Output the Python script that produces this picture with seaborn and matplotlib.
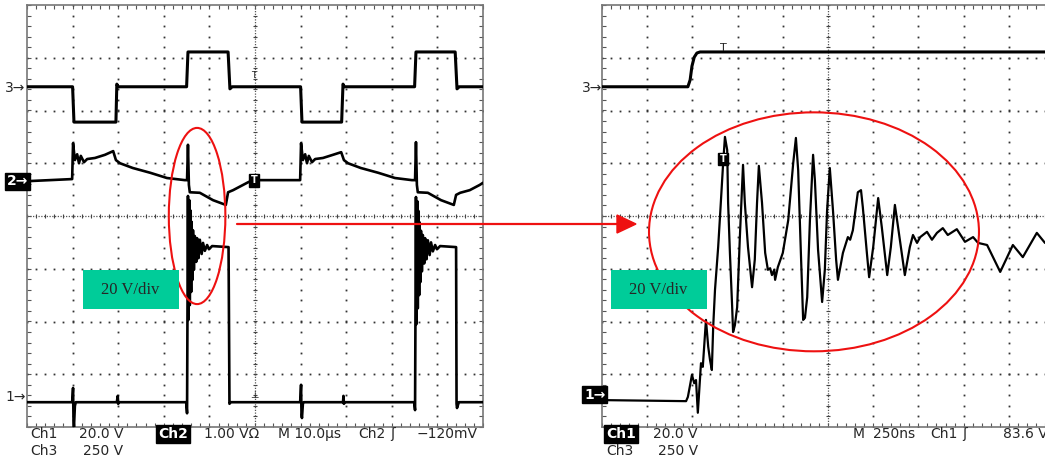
import numpy as np
import pandas as pd
import matplotlib
matplotlib.use("Agg")
import matplotlib.pyplot as plt
import seaborn as sns
from matplotlib.patches import Ellipse, Rectangle, Polygon
from matplotlib.lines import Line2D

sns.set_style("white")
plt.rcParams["font.family"] = ["DejaVu Sans"]

# ---------------------------------------------------------------------------
# Scope traces, in screen divisions (x: 0..10 div, y: -4..+4 div)
# ---------------------------------------------------------------------------

# 10 us/div record -- Ch3 (250 V/div)
ch3_slow = [(0.00, 2.45), (1.00, 2.45), (1.03, 1.78), (1.95, 1.78), (1.97, 2.50),
            (2.00, 2.45), (3.50, 2.45), (3.53, 3.11), (4.41, 3.11), (4.45, 2.41),
            (4.50, 2.45), (6.00, 2.45), (6.03, 1.78), (6.90, 1.78), (6.93, 2.50),
            (6.96, 2.45), (8.50, 2.45), (8.53, 3.11), (9.39, 3.11), (9.43, 2.41),
            (9.48, 2.45), (10.0, 2.45)]

# 10 us/div record -- Ch2 (1.00 V/div, current probe)
ch2_slow = [(0.00, 0.66), (0.50, 0.68), (0.99, 0.70), (1.01, 1.38), (1.05, 1.06),
            (1.10, 1.17), (1.14, 1.00), (1.18, 1.14), (1.25, 1.02), (1.32, 1.08),
            (1.49, 1.10), (1.71, 1.16), (1.89, 1.23), (1.95, 1.06), (2.04, 1.00),
            (2.32, 0.91), (2.70, 0.82), (3.07, 0.72), (3.46, 0.68), (3.51, 0.68),
            (3.53, 1.35), (3.55, 0.59), (3.57, 0.45), (3.79, 0.44), (4.08, 0.30),
            (4.36, 0.21), (4.41, 0.45), (4.52, 0.49), (4.85, 0.64), (4.96, 0.68),
            (5.99, 0.68), (6.01, 1.38), (6.05, 1.06), (6.10, 1.17), (6.14, 1.00),
            (6.18, 1.14), (6.25, 1.02), (6.32, 1.08), (6.49, 1.10), (6.71, 1.16),
            (6.89, 1.21), (6.95, 1.06), (7.04, 1.00), (7.32, 0.91), (7.70, 0.82),
            (8.07, 0.72), (8.44, 0.68), (8.51, 0.68), (8.53, 1.40), (8.55, 0.59),
            (8.57, 0.45), (8.79, 0.44), (9.08, 0.30), (9.36, 0.21), (9.41, 0.40),
            (9.50, 0.44), (9.71, 0.49), (9.93, 0.59), (10.0, 0.63)]

# 10 us/div record -- Ch1 (20 V/div)
ch1_slow = [(0.00, -3.53), (0.99, -3.53), (1.01, -3.26), (1.02, -3.87), (1.03, -4.00),
            (1.05, -3.60), (1.07, -3.53), (1.97, -3.53), (1.99, -3.41), (2.00, -3.56),
            (2.02, -3.53), (3.49, -3.53), (3.51, -3.74), (3.53, 0.38), (3.54, -1.97),
            (3.56, 0.30), (3.57, -1.69), (3.58, 0.11), (3.60, -1.44), (3.61, -0.11),
            (3.63, -1.21), (3.64, -0.27), (3.66, -1.02), (3.68, -0.38), (3.71, -0.87),
            (3.73, -0.42), (3.76, -0.80), (3.79, -0.45), (3.83, -0.72), (3.86, -0.51),
            (3.90, -0.66), (3.95, -0.55), (3.99, -0.63), (4.06, -0.57), (4.42, -0.59),
            (4.44, -3.56), (4.47, -3.53), (5.99, -3.53), (6.01, -3.20), (6.02, -3.77),
            (6.03, -3.83), (6.05, -3.56), (6.07, -3.53), (6.93, -3.53), (6.94, -3.41),
            (6.95, -3.56), (6.97, -3.53), (8.49, -3.53), (8.51, -3.68), (8.53, 0.36),
            (8.54, -2.05), (8.56, 0.28), (8.57, -1.75), (8.58, 0.10), (8.60, -1.50),
            (8.61, -0.12), (8.63, -1.25), (8.64, -0.28), (8.66, -1.05), (8.68, -0.36),
            (8.71, -0.90), (8.73, -0.42), (8.76, -0.82), (8.79, -0.46), (8.83, -0.74),
            (8.86, -0.50), (8.90, -0.67), (8.95, -0.55), (8.99, -0.63), (9.06, -0.57),
            (9.41, -0.59), (9.42, -3.56), (9.43, -3.64), (9.47, -3.53), (10.0, -3.53)]

# 250 ns/div record -- Ch3 (250 V/div)
ch3_fast = [(0.00, 2.45), (1.90, 2.45), (1.95, 2.58), (1.99, 2.84), (2.04, 3.01),
            (2.10, 3.09), (2.17, 3.11), (10.0, 3.11)]

# 250 ns/div record -- Ch1 (20 V/div), turn-on ringing
ch1_fast = [(0.00, -3.49), (1.86, -3.51), (1.90, -3.43), (1.95, -3.20), (1.99, -3.01),
            (2.04, -3.17), (2.08, -3.11), (2.12, -3.73), (2.19, -2.79), (2.23, -2.86),
            (2.30, -1.97), (2.35, -2.48), (2.39, -2.73), (2.43, -2.92), (2.46, -2.10),
            (2.50, -1.40), (2.57, -0.59), (2.61, -0.02), (2.68, 1.00), (2.72, 1.50),
            (2.77, 1.25), (2.79, 0.25), (2.83, -0.70), (2.88, -1.73), (2.90, -2.20),
            (2.94, -2.07), (2.99, -1.73), (3.05, -0.40), (3.12, 0.97), (3.16, 0.25),
            (3.23, -0.59), (3.32, -1.35), (3.38, -0.83), (3.43, 0.25), (3.47, 0.95),
            (3.54, 0.25), (3.61, -0.70), (3.67, -1.02), (3.72, -0.99), (3.76, -1.12),
            (3.81, -1.02), (3.83, -1.21), (3.89, -0.97), (4.00, -0.70), (4.12, -0.08),
            (4.23, 1.00), (4.29, 1.48), (4.34, 0.87), (4.40, -0.70), (4.45, -1.97),
            (4.49, -1.93), (4.54, -1.54), (4.60, -0.08), (4.67, 1.16), (4.71, 0.68),
            (4.78, -0.64), (4.87, -1.63), (4.93, -1.02), (4.98, 0.11), (5.04, 0.91),
            (5.11, 0.11), (5.18, -0.83), (5.22, -1.21), (5.33, -0.70), (5.44, -0.40),
            (5.49, -0.45), (5.55, -0.27), (5.66, 0.45), (5.73, 0.49), (5.77, 0.17),
            (5.86, -0.70), (5.91, -1.16), (6.00, -0.59), (6.11, 0.34), (6.19, -0.21),
            (6.31, -1.12), (6.39, -0.59), (6.48, 0.21), (6.55, -0.21), (6.70, -1.12),
            (6.81, -0.59), (6.88, -0.36), (6.97, -0.51), (7.04, -0.40), (7.19, -0.30),
            (7.30, -0.45), (7.41, -0.32), (7.54, -0.23), (7.65, -0.36), (7.85, -0.25),
            (8.03, -0.49), (8.21, -0.40), (8.32, -0.51), (8.52, -0.55), (8.81, -1.06),
            (9.09, -0.55), (9.31, -0.78), (9.62, -0.32), (9.80, -0.51), (10.0, -0.45)]

# channel ground-reference markers (div) and readout lines
marker_slow = {"3": 2.43, "2": 0.66, "1": -3.43}
marker_fast = {"3": 2.43, "1": -3.39}
readout_slow = [["Ch1", "20.0 V", "Ch2", "1.00 V\u03a9", "M 10.0\u00b5s", "Ch2", "\u0283", "\u2212120mV"],
                ["Ch3", "250 V"]]
readout_fast = [["Ch1", "20.0 V", "M", "250ns", "Ch1", "\u0283", "83.6 V"],
                ["Ch3", "250 V"]]
scale_note = "20 V/div"

W, H = 1045, 463
fig = plt.figure(figsize=(W / 100, H / 100), dpi=100)
fig.patch.set_facecolor("white")


def fx(px):
    return px / W


def fy(py):
    return 1 - py / H


ax_l = fig.add_axes([fx(27), fy(427), 456 / W, 422 / H])
ax_r = fig.add_axes([fx(602), fy(427), 452 / W, 422 / H])


def graticule(ax):
    ax.set_xlim(0, 10)
    ax.set_ylim(-4, 4)
    sub_x = np.arange(0, 10.001, 0.2)
    sub_y = np.arange(-4, 4.001, 0.2)
    for k in [1, 2, 3, 4, 6, 7, 8, 9]:
        ax.plot(np.full_like(sub_y, k), sub_y, ls="none", marker="s", ms=1.3,
                mew=0, color="#333333", zorder=1)
    for k in [-3, -2, -1, 1, 2, 3]:
        ax.plot(sub_x, np.full_like(sub_x, k), ls="none", marker="s", ms=1.3,
                mew=0, color="#333333", zorder=1)
    ax.axhline(0, color="#555555", lw=0.9, ls=(0, (1, 1.2)), zorder=1)
    ax.axvline(5, color="#555555", lw=0.9, ls=(0, (1, 1.2)), zorder=1)
    ax.vlines(sub_x, -0.045, 0.045, color="#444444", lw=0.8, zorder=1)
    ax.hlines(sub_y, 4.95, 5.05, color="#444444", lw=0.8, zorder=1)
    ax.set_xticks(sub_x)
    ax.set_yticks(sub_y)
    ax.tick_params(direction="in", length=3, width=0.8, colors="#555555",
                   top=True, right=True, bottom=True, left=True,
                   labelbottom=False, labelleft=False)
    for s in ax.spines.values():
        s.set_color("#777777")
        s.set_linewidth(1.2)
    ax.set_xlabel("")
    ax.set_ylabel("")


graticule(ax_l)
graticule(ax_r)


def trace(ax, pts, lw):
    df = pd.DataFrame(pts, columns=["t", "v"])
    sns.lineplot(data=df, x="t", y="v", sort=False, estimator=None, ax=ax,
                 color="black", lw=lw, zorder=3)


trace(ax_l, ch3_slow, 2.2)
trace(ax_l, ch2_slow, 1.9)
trace(ax_l, ch1_slow, 1.9)
trace(ax_r, ch3_fast, 2.2)
trace(ax_r, ch1_fast, 1.6)
for ax in (ax_l, ax_r):
    ax.set_xlabel("")
    ax.set_ylabel("")
    ax.set_xlim(0, 10)
    ax.set_ylim(-4, 4)

# trigger indicators
ax_l.text(4.98, 0.68, "T", color="white", fontsize=7, fontweight="bold",
          ha="center", va="center", zorder=6,
          bbox=dict(boxstyle="square,pad=0.15", fc="black", ec="black"))
ax_r.text(2.68, 1.08, "T", color="white", fontsize=7, fontweight="bold",
          ha="center", va="center", zorder=6,
          bbox=dict(boxstyle="square,pad=0.15", fc="black", ec="black"))
ax_l.text(4.98, 2.66, "T", fontsize=6.5, ha="center", va="center", color="#222222", zorder=6)
ax_l.text(4.98, -3.40, "\u22a5", fontsize=7, ha="center", va="center", color="#222222", zorder=6)
ax_r.text(2.68, 3.19, "T", fontsize=8, ha="center", va="center", color="#222222", zorder=6)

# highlighted regions
ax_l.add_patch(Ellipse((3.73, 0.0), 1.24, 3.34, fill=False, ec="#ee1111",
                       lw=1.5, clip_on=False, zorder=7))
ax_r.add_patch(Ellipse((4.69, -0.30), 7.30, 4.53, fill=False, ec="#ee1111",
                       lw=1.5, clip_on=False, zorder=7))

# connecting arrow
fig.add_artist(Line2D([fx(237), fx(620)], [fy(224), fy(224)], color="#ee1111",
                      lw=1.6, transform=fig.transFigure, zorder=8))
fig.add_artist(Polygon([(fx(617), fy(215)), (fx(636), fy(224)), (fx(617), fy(233))],
                       closed=True, fc="#ee1111", ec="#ee1111",
                       transform=fig.transFigure, zorder=8))

# scale notes
for left in (83, 611):
    fig.add_artist(Rectangle((fx(left), fy(309)), 96 / W, 39 / H, fc="#00CC99",
                             ec="none", transform=fig.transFigure, zorder=9))
    fig.text(fx(left + 47), fy(290), scale_note, family="Liberation Serif",
             fontsize=12, ha="center", va="center", zorder=10)

# channel markers
inv = dict(boxstyle="square,pad=0.12", fc="black", ec="black")
fig.text(fx(5), fy(marker_px := 216 - marker_slow["3"] * 52.75), "3\u2192", fontsize=10, va="center")
fig.text(fx(7), fy(216 - marker_slow["2"] * 52.75), "2\u2192", fontsize=10, va="center",
         color="white", fontweight="bold", bbox=inv)
fig.text(fx(5), fy(216 - marker_slow["1"] * 52.75), "1\u2192", fontsize=10, va="center")
fig.text(fx(582), fy(216 - marker_fast["3"] * 52.75), "3\u2192", fontsize=10, va="center")
fig.text(fx(584), fy(216 - marker_fast["1"] * 52.75), "1\u2192", fontsize=10, va="center",
         color="white", fontweight="bold", bbox=inv)

# readout lines
row1_x_slow = [30, 79, 158, 204, 278, 358, 390, 417]
for s, xp in zip(readout_slow[0], row1_x_slow):
    kw = {}
    if s == "Ch2" and xp == 158:
        kw = dict(color="white", fontweight="bold", bbox=inv)
    fig.text(fx(xp), fy(434), s, fontsize=10, va="center", **kw)
for s, xp in zip(readout_slow[1], [30, 83]):
    fig.text(fx(xp), fy(451), s, fontsize=10, va="center")

row1_x_fast = [606, 653, 853, 873, 930, 962, 1003]
for s, xp in zip(readout_fast[0], row1_x_fast):
    kw = {}
    if s == "Ch1" and xp == 606:
        kw = dict(color="white", fontweight="bold", bbox=inv)
    fig.text(fx(xp), fy(434), s, fontsize=10, va="center", **kw)
for s, xp in zip(readout_fast[1], [606, 658]):
    fig.text(fx(xp), fy(451), s, fontsize=10, va="center")

fig.savefig("out.png", dpi=100)
